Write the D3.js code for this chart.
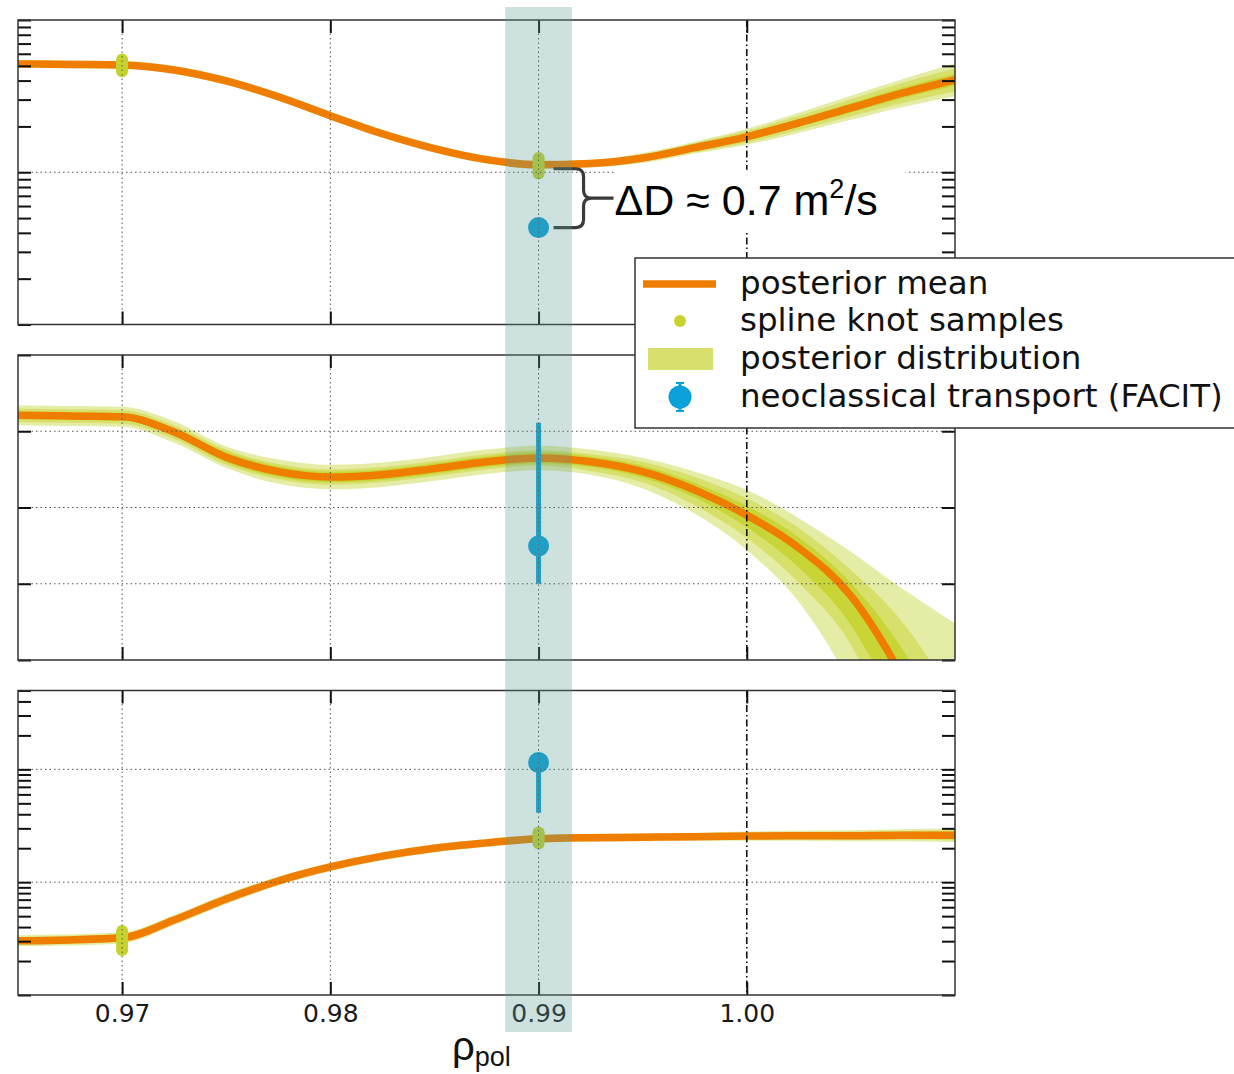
<!DOCTYPE html>
<html><head><meta charset="utf-8">
<script src="https://cdn.jsdelivr.net/npm/d3@7"></script>
<style>body{margin:0;background:#fff}</style>
</head><body><svg id="c" width="1234" height="1074"></svg>
<script>
// ---------- data ----------
const rho = [0.965,0.9675,0.97,0.9725,0.975,0.9775,0.98,0.9825,0.985,0.9875,0.99,0.9925,0.995,0.9975,1.0,1.0025,1.005,1.0075,1.01];
const xTicks = [0.97,0.98,0.99,1.00];
const xTickLabels = ["0.97","0.98","0.99","1.00"];

// panel 1: diffusion D (log)
const meanD = [5.15,5.11,5.07,4.70,3.98,3.13,2.35,1.79,1.43,1.21,1.12,1.14,1.24,1.45,1.71,2.11,2.65,3.32,4.05];
const wD_outer = [0.026,0.026,0.026,0.026,0.026,0.026,0.026,0.026,0.026,0.026,0.026,0.026,0.033,0.039,0.052,0.066,0.079,0.092,0.108];
const wD_mid   = [0.020,0.020,0.020,0.020,0.020,0.020,0.020,0.020,0.020,0.020,0.020,0.020,0.023,0.030,0.039,0.046,0.056,0.066,0.075];
const wD_inner = [0.013,0.013,0.013,0.013,0.013,0.013,0.013,0.013,0.013,0.013,0.013,0.013,0.016,0.020,0.023,0.026,0.030,0.035,0.040];
const knotsD_097 = [4.6,4.75,4.9,5.0,5.1,5.2,5.35,5.5];
const knotsD_099 = [0.98,1.02,1.06,1.10,1.13,1.17,1.21,1.24];
const facitD = 0.433;
const ticksD = [0.1,0.2,0.3,0.4,0.5,0.6,0.7,0.8,0.9,1,2,3,4,5,6,7,8,9,10];
const gridD = [1];

// panel 2: convection v (linear)
const meanV = [1.21,1.20,1.19,0.99,0.66,0.47,0.40,0.43,0.51,0.60,0.65,0.60,0.47,0.23,-0.10,-0.53,-1.16,-2.24,-3.70];
const vOuterUp = [0.13,0.13,0.13,0.14,0.14,0.16,0.16,0.16,0.16,0.16,0.16,0.16,0.18,0.24,0.33,0.39,0.58,1.17,2.18];
const vOuterDn = [0.13,0.13,0.13,0.14,0.14,0.16,0.16,0.16,0.16,0.16,0.16,0.17,0.22,0.31,0.46,0.71,1.17,1.60,1.97];
const vMidUp   = [0.09,0.09,0.09,0.09,0.10,0.10,0.10,0.10,0.10,0.10,0.10,0.10,0.13,0.17,0.22,0.26,0.34,0.73,1.18];
const vMidDn   = [0.09,0.09,0.09,0.09,0.10,0.10,0.10,0.10,0.10,0.10,0.10,0.12,0.14,0.20,0.30,0.46,0.64,1.05,1.44];
const vInnerUp = [0.05,0.05,0.05,0.05,0.07,0.07,0.07,0.07,0.07,0.07,0.07,0.07,0.08,0.09,0.12,0.14,0.17,0.37,0.59];
const vInnerDn = [0.05,0.05,0.05,0.05,0.07,0.07,0.07,0.07,0.07,0.07,0.07,0.07,0.08,0.10,0.16,0.26,0.38,0.59,0.85];
const facitV = -0.505, facitVLo = -1.00, facitVHi = 1.11;
const ticksV = [-2,-1,0,1,2];
const gridV = [-1,0,1];

// panel 3: ratio (log)
const meanR = [0.0302,0.0308,0.0321,0.0462,0.0710,0.1025,0.1364,0.170,0.200,0.223,0.243,0.248,0.250,0.253,0.256,0.258,0.258,0.261,0.261];
const wR_outer = [0.049,0.049,0.049,0.044,0.044,0.040,0.035,0.035,0.035,0.035,0.035,0.035,0.035,0.035,0.040,0.044,0.049,0.053,0.062];
const wR_mid   = [0.035,0.035,0.035,0.031,0.031,0.027,0.024,0.024,0.024,0.024,0.024,0.024,0.024,0.024,0.027,0.031,0.035,0.038,0.044];
const wR_inner = [0.022,0.022,0.022,0.020,0.020,0.018,0.016,0.016,0.016,0.016,0.016,0.016,0.016,0.016,0.018,0.020,0.022,0.025,0.031];
const knotsR_097 = [0.025,0.027,0.029,0.031,0.033,0.035,0.037];
const knotsR_099 = [0.22,0.23,0.24,0.25,0.26,0.27,0.275];
const facitR = 1.15, facitRLo = 0.413, facitRHi = 1.15;
const ticksR = [0.01,0.02,0.03,0.04,0.05,0.06,0.07,0.08,0.09,0.1,0.2,0.3,0.4,0.5,0.6,0.7,0.8,0.9,1,2,3,4,5];
const gridR = [0.1,1];

const knotRho = [0.97,0.99];
const facitRho = 0.99;
const focusHalfWidth = 0.0016;

const legendLabels = ["posterior mean","spline knot samples","posterior distribution","neoclassical transport (FACIT)"];

// ---------- styles ----------
const ORANGE = "#ef7d00", KNOT = "#c6d22e", BLUE = "#0aa0d8";
const bandColors = ["#e5eca6","#d7e06a","#c9d536"];

const svg = d3.select("#c");
const x = d3.scaleLinear().domain([0.965,1.01]).range([18,955]);

function logBand(mean,w){ return rho.map((r,i)=>({r, lo: mean[i]/Math.pow(10,w[i]), hi: mean[i]*Math.pow(10,w[i])})); }
function linBand(mean,up,dn){ return rho.map((r,i)=>({r, lo: mean[i]-dn[i], hi: mean[i]+up[i]})); }

const panels = [
  {id:1, top:20, bottom:324.5, y:d3.scaleLog().domain([0.1,10]).range([324.5,20]),
   mean:meanD, bands:[logBand(meanD,wD_outer),logBand(meanD,wD_mid),logBand(meanD,wD_inner)],
   knots:[knotsD_097,knotsD_099], facit:{v:facitD}, ticks:ticksD, grid:gridD},
  {id:2, top:355, bottom:660, y:d3.scaleLinear().domain([-2,2]).range([660,355]),
   mean:meanV, bands:[linBand(meanV,vOuterUp,vOuterDn),linBand(meanV,vMidUp,vMidDn),linBand(meanV,vInnerUp,vInnerDn)],
   knots:[], facit:{v:facitV, lo:facitVLo, hi:facitVHi}, ticks:ticksV, grid:gridV},
  {id:3, top:690.5, bottom:995, y:d3.scaleLog().domain([0.01,5]).range([995,690.5]),
   mean:meanR, bands:[logBand(meanR,wR_outer),logBand(meanR,wR_mid),logBand(meanR,wR_inner)],
   knots:[knotsR_097,knotsR_099], facit:{v:facitR, lo:facitRLo, hi:facitRHi}, ticks:ticksR, grid:gridR}
];

panels.forEach(p=>{
  const g = svg.append("g");
  const cid = "clip"+p.id;
  svg.append("clipPath").attr("id",cid).append("rect")
    .attr("x",x.range()[0]).attr("y",p.top).attr("width",x.range()[1]-x.range()[0]).attr("height",p.bottom-p.top);
  const dg = g.append("g").attr("clip-path",`url(#${cid})`);
  const area = d3.area().x(d=>x(d.r)).y0(d=>p.y(d.lo)).y1(d=>p.y(d.hi)).curve(d3.curveMonotoneX);
  p.bands.forEach((b,i)=>dg.append("path").datum(b).attr("d",area).attr("fill",bandColors[i]));
  const line = d3.line().x((d,i)=>x(rho[i])).y(d=>p.y(d)).curve(d3.curveMonotoneX);
  dg.append("path").datum(p.mean).attr("d",line).attr("fill","none").attr("stroke",ORANGE).attr("stroke-width",7.5);
  p.knots.forEach((ks,j)=>{
    dg.selectAll(null).data(ks).enter().append("circle")
      .attr("cx",x(knotRho[j])).attr("cy",d=>p.y(d)).attr("r",6).attr("fill",KNOT);
  });
  // FACIT
  if(p.facit.lo!==undefined){
    dg.append("line").attr("x1",x(facitRho)).attr("x2",x(facitRho))
      .attr("y1",p.y(p.facit.lo)).attr("y2",p.y(p.facit.hi)).attr("stroke",BLUE).attr("stroke-width",5);
  }
  dg.append("circle").attr("cx",x(facitRho)).attr("cy",p.y(p.facit.v)).attr("r",10.5).attr("fill",BLUE);
  // grid
  const gg = g.append("g");
  xTicks.forEach(t=>{
    gg.append("line").attr("x1",x(t)).attr("x2",x(t)).attr("y1",p.top).attr("y2",p.bottom)
      .attr("stroke", t===1.00 ? "#111" : "#555")
      .attr("stroke-width", t===1.00 ? 1.6 : 1)
      .attr("stroke-dasharray", t===1.00 ? "7,3,1.5,3" : "1.5,3");
  });
  p.grid.forEach(v=>{
    gg.append("line").attr("x1",x.range()[0]).attr("x2",x.range()[1]).attr("y1",p.y(v)).attr("y2",p.y(v))
      .attr("stroke","#555").attr("stroke-width",1).attr("stroke-dasharray","1.5,3");
  });
  // ticks
  const tickStyle = s=>{ s.select(".domain").remove(); s.selectAll(".tick line").attr("stroke","#111").attr("stroke-width",2); };
  g.append("g").attr("transform",`translate(${x.range()[0]},0)`)
    .call(d3.axisLeft(p.y).tickValues(p.ticks).tickSizeInner(-13).tickSizeOuter(0).tickFormat("")).call(tickStyle);
  g.append("g").attr("transform",`translate(${x.range()[1]},0)`)
    .call(d3.axisRight(p.y).tickValues(p.ticks).tickSizeInner(-13).tickSizeOuter(0).tickFormat("")).call(tickStyle);
  g.append("g").attr("transform",`translate(0,${p.top})`)
    .call(d3.axisTop(x).tickValues(xTicks).tickSizeInner(-13).tickSizeOuter(0).tickFormat("")).call(tickStyle);
  const bx = g.append("g").attr("transform",`translate(0,${p.bottom})`)
    .call(d3.axisBottom(x).tickValues(xTicks).tickSizeInner(-13).tickSizeOuter(0).tickPadding(9)
      .tickFormat((d,i)=> p.id===3 ? xTickLabels[i] : "")).call(tickStyle);
  bx.selectAll("text").attr("font-family","DejaVu Sans").attr("font-size",25).attr("fill","#1a1a1a");
  // frame
  g.append("rect").attr("x",x.range()[0]).attr("y",p.top).attr("width",x.range()[1]-x.range()[0])
    .attr("height",p.bottom-p.top).attr("fill","none").attr("stroke","#333").attr("stroke-width",1.5);
});

// ---------- annotation ----------
const p1 = panels[0];
const ax0 = x(0.99)+15, ayTop = p1.y(meanD[10])+4, ayBot = p1.y(facitD);
const aMid = (ayTop+ayBot)/2;
svg.append("rect").attr("x",ax0+62).attr("y",ayTop+1).attr("width",290).attr("height",ayBot-ayTop+2).attr("fill","#fff");
svg.append("path")
  .attr("d",`M${ax0},${ayTop} L${ax0+22},${ayTop} Q${ax0+30},${ayTop} ${ax0+30},${ayTop+8} L${ax0+30},${aMid-8} Q${ax0+30},${aMid} ${ax0+38},${aMid} L${ax0+60},${aMid} M${ax0+38},${aMid} Q${ax0+30},${aMid} ${ax0+30},${aMid+8} L${ax0+30},${ayBot-8} Q${ax0+30},${ayBot} ${ax0+22},${ayBot} L${ax0},${ayBot}`)
  .attr("fill","none").attr("stroke","#3a3a3a").attr("stroke-width",3.2);
const at = svg.append("text").attr("x",ax0+61).attr("y",aMid+17)
  .attr("font-family","Liberation Sans, Arial, sans-serif").attr("font-size",43).attr("fill","#000");
at.append("tspan").text("ΔD ≈ 0.7 m");
at.append("tspan").attr("font-size",27).attr("dy",-17).text("2");
at.append("tspan").attr("dy",17).text("/s");

// ---------- focus band ----------
svg.append("rect").attr("x",x(0.99-focusHalfWidth)).attr("width",x(0.99+focusHalfWidth)-x(0.99-focusHalfWidth))
  .attr("y",7).attr("height",1025).attr("fill","rgb(88,154,150)").attr("opacity",0.3);

// ---------- axis title ----------
const xt = svg.append("text").attr("x",452).attr("y",1060)
  .attr("font-family","Liberation Sans, Arial, sans-serif").attr("fill","#111");
xt.append("tspan").attr("font-size",40).text("ρ");
xt.append("tspan").attr("font-size",27).attr("dy",6).text("pol");

// ---------- legend ----------
const lg = svg.append("g");
lg.append("rect").attr("x",635).attr("y",258).attr("width",640).attr("height",170)
  .attr("fill","#fff").attr("stroke","#333").attr("stroke-width",1.5);
const rowY = [284,321,359,397];
lg.append("line").attr("x1",643).attr("x2",716).attr("y1",rowY[0]).attr("y2",rowY[0]).attr("stroke",ORANGE).attr("stroke-width",7.5);
lg.append("circle").attr("cx",680).attr("cy",rowY[1]).attr("r",6).attr("fill",KNOT);
lg.append("rect").attr("x",648).attr("y",rowY[2]-11).attr("width",65).attr("height",22).attr("fill","#d7e06c");
lg.append("line").attr("x1",680).attr("x2",680).attr("y1",rowY[3]-14).attr("y2",rowY[3]+14).attr("stroke",BLUE).attr("stroke-width",3);
lg.append("line").attr("x1",676).attr("x2",684).attr("y1",rowY[3]-14).attr("y2",rowY[3]-14).attr("stroke",BLUE).attr("stroke-width",2);
lg.append("line").attr("x1",676).attr("x2",684).attr("y1",rowY[3]+14).attr("y2",rowY[3]+14).attr("stroke",BLUE).attr("stroke-width",2);
lg.append("circle").attr("cx",680).attr("cy",rowY[3]).attr("r",11.5).attr("fill",BLUE);
lg.selectAll("text.lbl").data(legendLabels).enter().append("text").attr("class","lbl")
  .attr("x",740).attr("y",(d,i)=>rowY[i]+10).text(d=>d)
  .attr("font-family","DejaVu Sans").attr("font-size",32.5).attr("fill","#111");
</script></body></html>
